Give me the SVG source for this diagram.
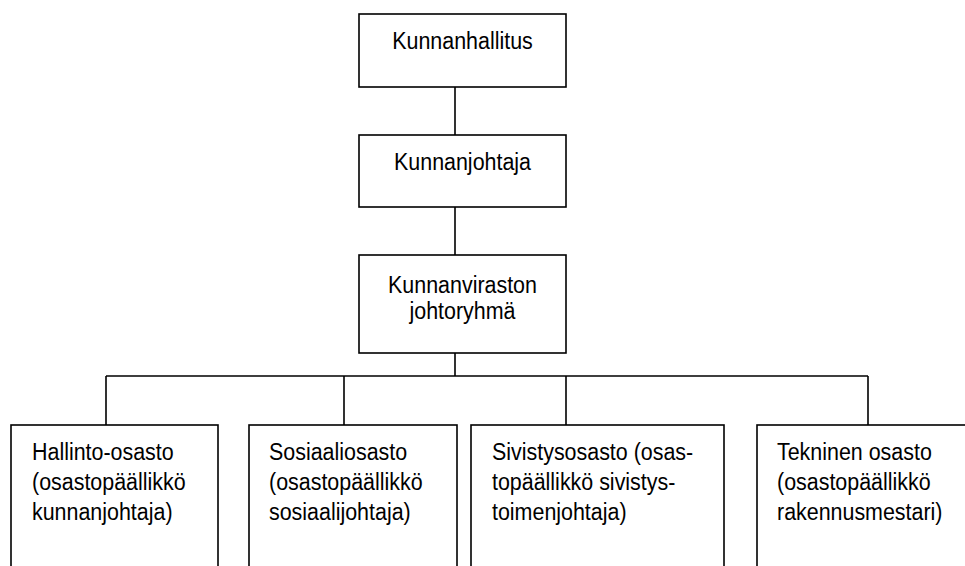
<svg xmlns="http://www.w3.org/2000/svg" width="965" height="566" viewBox="0 0 965 566">
<style>
.box{fill:#fff;stroke:#000;stroke-width:1.6}
.ln{fill:none;stroke:#000;stroke-width:1.6}
text{font-family:"Liberation Sans",Arial,sans-serif;font-size:24.5px;fill:#000}
.c{text-anchor:middle}
</style>
<rect width="965" height="566" fill="#fff"/>
<g id="connectors">
<path class="ln" d="M455 87V135M455 207V255M455 353V376M106 376H868M106 376V425M344 376V425M566 376V425M868 376V425"/>
</g>
<g id="kunnanhallitus">
<rect class="box" x="359" y="14" width="207" height="73"/>
<text class="c" transform="translate(462.5,49) scale(0.875,1)">Kunnanhallitus</text>
</g>
<g id="kunnanjohtaja">
<rect class="box" x="359" y="135" width="207" height="72"/>
<text class="c" transform="translate(462.5,170) scale(0.875,1)">Kunnanjohtaja</text>
</g>
<g id="johtoryhma">
<rect class="box" x="359" y="255" width="207" height="98"/>
<text class="c" transform="translate(462.5,292.5) scale(0.875,1)">Kunnanviraston</text>
<text class="c" transform="translate(462.5,319) scale(0.875,1)">johtoryhmä</text>
</g>
<g id="hallinto">
<rect class="box" x="11" y="425" width="207" height="180"/>
<text transform="translate(32,460) scale(0.875,1)">Hallinto-osasto</text>
<text transform="translate(32,490) scale(0.875,1)">(osastopäällikkö</text>
<text transform="translate(32,520) scale(0.875,1)">kunnanjohtaja)</text>
</g>
<g id="sosiaali">
<rect class="box" x="249" y="425" width="208" height="180"/>
<text transform="translate(269,460) scale(0.875,1)">Sosiaaliosasto</text>
<text transform="translate(269,490) scale(0.875,1)">(osastopäällikkö</text>
<text transform="translate(269,520) scale(0.875,1)">sosiaalijohtaja)</text>
</g>
<g id="sivistys">
<rect class="box" x="471" y="425" width="253" height="180"/>
<text transform="translate(492,460) scale(0.875,1)">Sivistysosasto (osas-</text>
<text transform="translate(492,490) scale(0.875,1)">topäällikkö sivistys-</text>
<text transform="translate(492,520) scale(0.875,1)">toimenjohtaja)</text>
</g>
<g id="tekninen">
<rect class="box" x="757" y="425" width="230" height="180"/>
<text transform="translate(777,460) scale(0.875,1)">Tekninen osasto</text>
<text transform="translate(777,490) scale(0.875,1)">(osastopäällikkö</text>
<text transform="translate(777,520) scale(0.875,1)">rakennusmestari)</text>
</g>
</svg>
